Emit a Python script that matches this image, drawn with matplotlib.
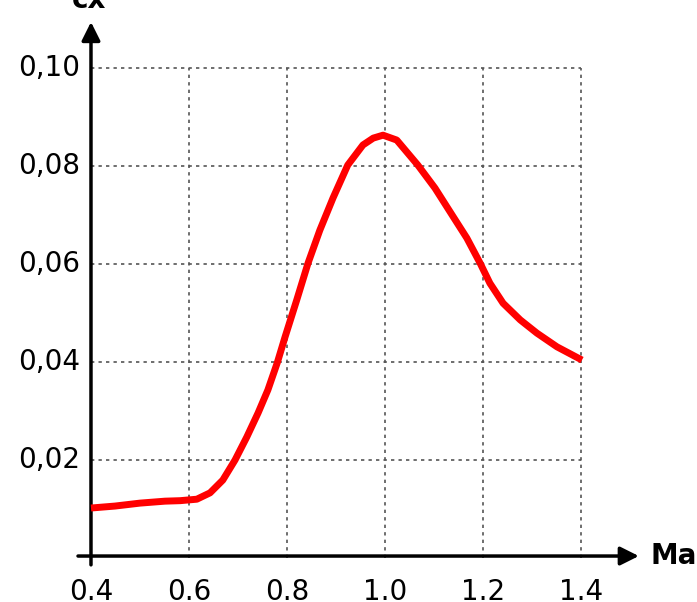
import numpy as np
import matplotlib
matplotlib.use('Agg')
import matplotlib.pyplot as plt

# Mach number vs drag coefficient
ma = [0.400, 0.449, 0.500, 0.551, 0.582, 0.616, 0.643, 0.669, 0.694, 0.718,
      0.741, 0.761, 0.780, 0.796, 0.820, 0.843, 0.867, 0.894, 0.924, 0.955,
      0.976, 0.996, 1.024, 1.067, 1.102, 1.137, 1.167, 1.194, 1.214, 1.241,
      1.276, 1.310, 1.351, 1.402]
cx = [0.0102, 0.0106, 0.0112, 0.0116, 0.0117, 0.0120, 0.0133, 0.0159, 0.0200, 0.0247,
      0.0296, 0.0343, 0.0398, 0.0451, 0.0527, 0.0602, 0.0669, 0.0735, 0.0802, 0.0843,
      0.0857, 0.0863, 0.0853, 0.0802, 0.0755, 0.0700, 0.0653, 0.0602, 0.0561, 0.0520,
      0.0486, 0.0459, 0.0431, 0.0404]

x_ticks = [0.4, 0.6, 0.8, 1.0, 1.2, 1.4]
x_labels = ['0.4', '0.6', '0.8', '1.0', '1.2', '1.4']
y_ticks = [0.02, 0.04, 0.06, 0.08, 0.10]
y_labels = ['0,02', '0,04', '0,06', '0,08', '0,10']

fig = plt.figure(figsize=(6.97, 6.02), dpi=100)
ax = fig.add_axes([78/697, 32/602, 562/697, 548/602])
ax.set_xlim(0.3735, 1.5204)
ax.set_ylim(-0.00245, 0.1094)
ax.axis('off')

# dotted grid
grid = dict(color='#555555', lw=1.2, linestyle=(0, (2, 2.5)))
ax.vlines(x_ticks[1:], 0, 0.10, **grid)
ax.hlines(y_ticks, 0.4, 1.4, **grid)

# axes with arrows
y0 = 0.0004
ax.annotate('', xy=(1.518, y0), xytext=(0.3735, y0),
            arrowprops=dict(arrowstyle='-|>', lw=2.5, color='black', mutation_scale=28,
                            shrinkA=0, shrinkB=0))
ax.annotate('', xy=(0.4, 0.1094), xytext=(0.4, -0.0014),
            arrowprops=dict(arrowstyle='-|>', lw=2.5, color='black', mutation_scale=28,
                            shrinkA=0, shrinkB=0))

ax.plot(ma, cx, color='red', lw=5, solid_capstyle='butt', solid_joinstyle='round', zorder=5)

for x, lab in zip(x_ticks, x_labels):
    ax.text(x, -0.0069, lab, ha='center', va='center', fontsize=20, clip_on=False)
for y, lab in zip(y_ticks, y_labels):
    ax.text(0.3776, y, lab, ha='right', va='center', fontsize=20, clip_on=False)

ax.text(1.541, y0, 'Ma', ha='left', va='center', fontsize=20, fontweight='bold', clip_on=False)
ax.text(0.3955, 0.1122, 'cx', ha='center', va='baseline', fontsize=20, fontweight='bold', clip_on=False)

fig.savefig('out.png', dpi=100, facecolor='white')
